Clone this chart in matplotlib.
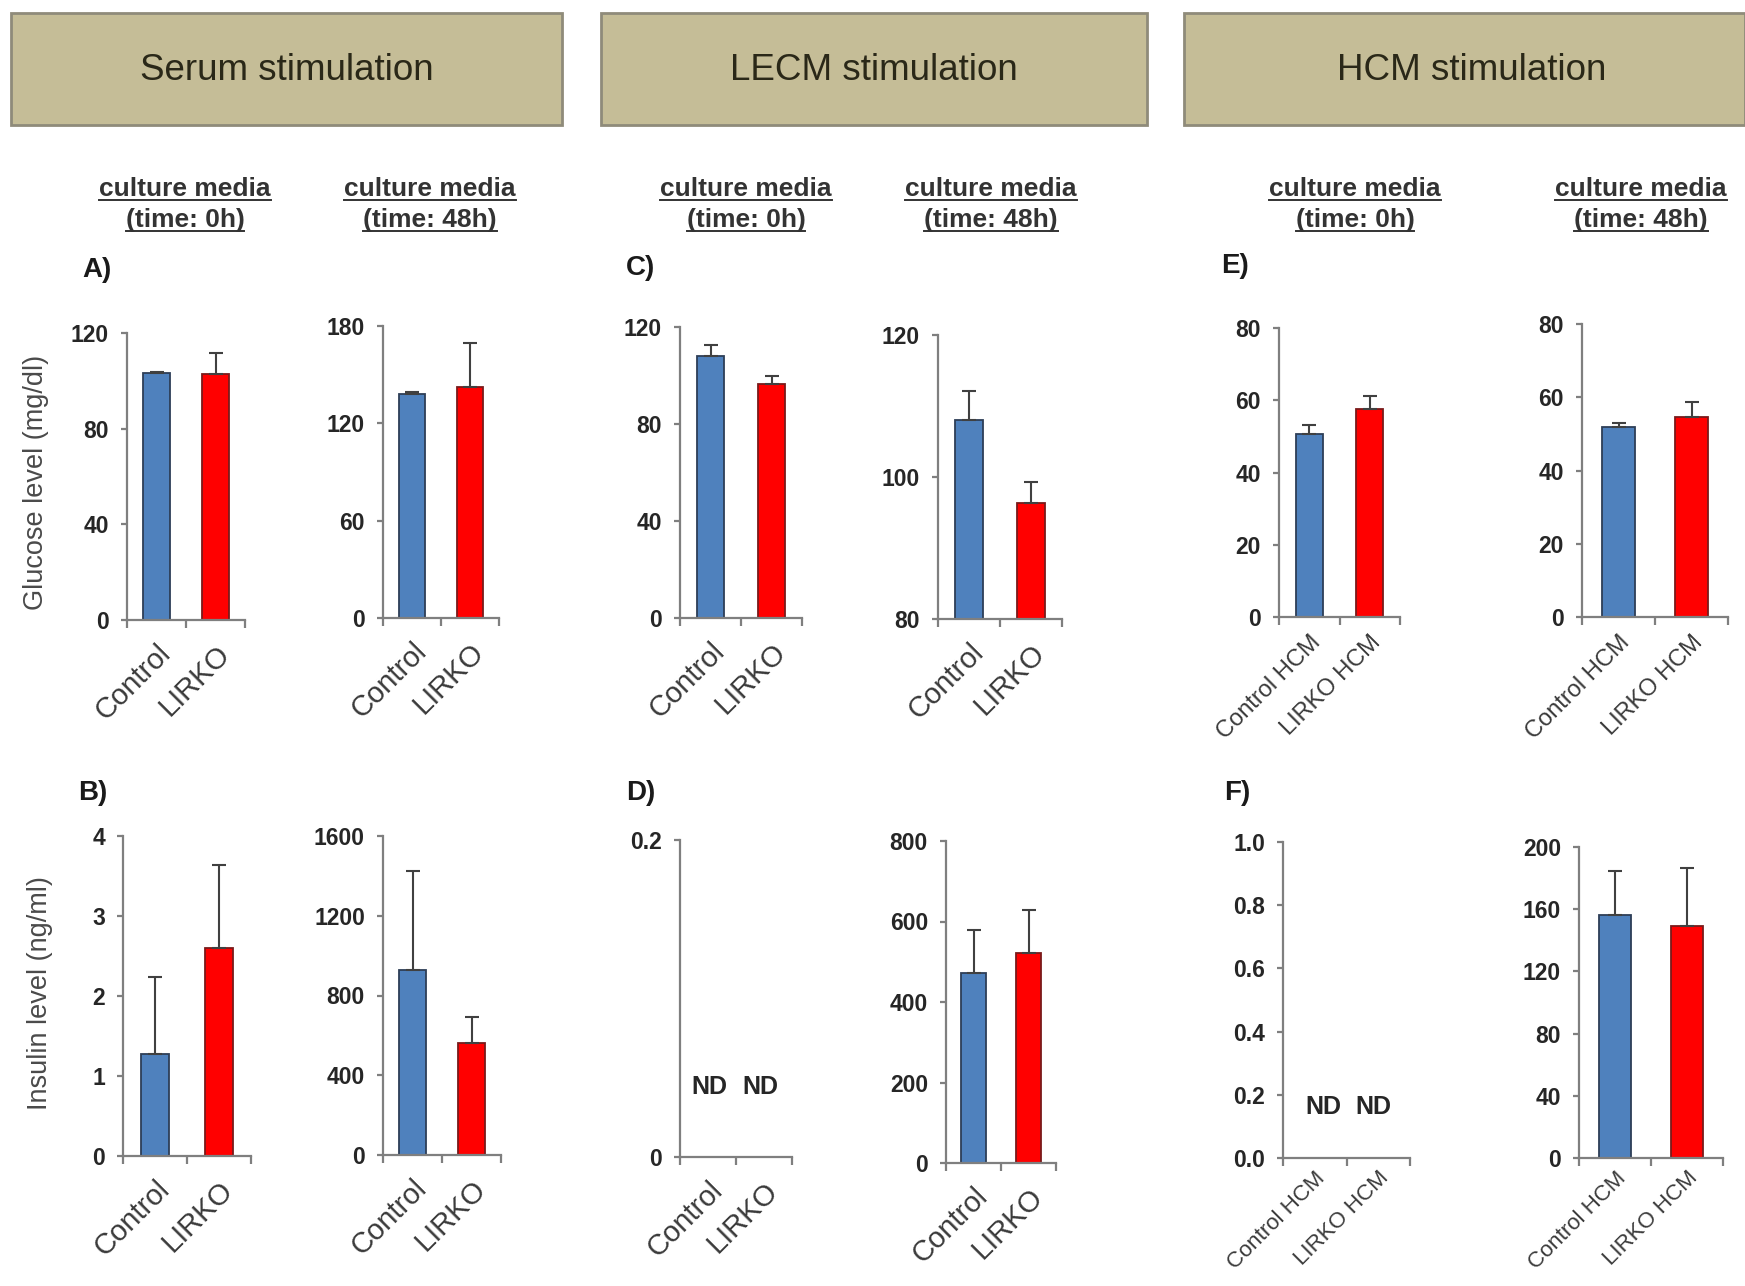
import numpy as np
import matplotlib
matplotlib.use("Agg")
import matplotlib.pyplot as plt
from matplotlib.lines import Line2D
from matplotlib.patches import Rectangle

plt.rcParams['font.family'] = ['Liberation Sans', 'DejaVu Sans']

# data (mean, upper error)
groups = ['Control', 'LIRKO']
groups_hcm = ['Control HCM', 'LIRKO HCM']

glucose_serum_0h = [103.2, 102.8]
glucose_serum_0h_err = [0.6, 8.8]
glucose_serum_48h = [138.0, 142.6]
glucose_serum_48h_err = [1.3, 27.0]
glucose_lecm_0h = [108.1, 96.5]
glucose_lecm_0h_err = [4.3, 3.1]
glucose_lecm_48h = [108.0, 96.4]
glucose_lecm_48h_err = [4.1, 2.9]
glucose_hcm_0h = [50.7, 57.7]
glucose_hcm_0h_err = [2.4, 3.6]
glucose_hcm_48h = [51.8, 54.6]
glucose_hcm_48h_err = [1.2, 4.2]

insulin_serum_0h = [1.28, 2.60]
insulin_serum_0h_err = [0.96, 1.04]
insulin_serum_48h = [926, 561]
insulin_serum_48h_err = [498, 129]
insulin_lecm_48h = [471, 521]
insulin_lecm_48h_err = [107, 107]
insulin_hcm_48h = [156.4, 149.3]
insulin_hcm_48h_err = [28.2, 37.0]

headers = ['Serum stimulation', 'LECM stimulation', 'HCM stimulation']
subtitles = ['culture media', '(time: 0h)', '(time: 48h)']

W, H = 1745, 1286
fig = plt.figure(figsize=(W / 100, H / 100), dpi=100)
fig.patch.set_facecolor('white')

BLUE = '#4f81bd'
RED = '#ff0000'
AXC = '#7f7f7f'
TXT = '#262626'


def px_axes(l, r, t, b):
    return fig.add_axes([l / W, 1 - b / H, (r - l) / W, (b - t) / H])


def panel(box, ylim, yticks, labels, vals=None, errs=None, ylabels=None,
          lab_size=21, lab_pad=14):
    ax = px_axes(*box)
    if vals is not None:
        x = np.arange(len(vals)) + 0.5
        ax.bar(x, vals, width=0.45, color=[BLUE, RED],
               edgecolor=['#2d3e57', '#7a1a1a'], linewidth=1.3, zorder=2)
        ax.errorbar(x, vals, yerr=[np.zeros(len(errs)), errs], fmt='none',
                    ecolor='#404040', elinewidth=1.5, capsize=5, capthick=1.5, zorder=3)
    ax.set_xlim(0, 2)
    ax.set_ylim(*ylim)
    ax.set_yticks(yticks)
    if ylabels:
        ax.set_yticklabels(ylabels)
    for s in ['top', 'right']:
        ax.spines[s].set_visible(False)
    for s in ['left', 'bottom']:
        ax.spines[s].set_color(AXC)
        ax.spines[s].set_linewidth(1.6)
    ax.set_xticks([0.5, 1.5])
    ax.set_xticklabels(labels, rotation=45, ha='right', rotation_mode='anchor',
                       fontsize=lab_size, color='#3a3a3a')
    ax.set_xticks([0, 1, 2], minor=True)
    ax.tick_params(axis='x', which='major', length=0, pad=lab_pad)
    ax.tick_params(axis='x', which='minor', length=6, width=1.6, color=AXC, direction='out')
    ax.tick_params(axis='y', length=4, width=1.6, color=AXC, direction='out',
                   labelsize=16.5, labelcolor=TXT, pad=9)
    for t in ax.get_yticklabels():
        t.set_fontweight('bold')
    ax.patch.set_alpha(0)
    return ax


# row 1: glucose
panel((127, 245, 333, 620), (0, 120), [0, 40, 80, 120], groups,
      glucose_serum_0h, glucose_serum_0h_err)
panel((383, 499, 326, 618), (0, 180), [0, 60, 120, 180], groups,
      glucose_serum_48h, glucose_serum_48h_err)
panel((680, 802, 327, 618), (0, 120), [0, 40, 80, 120], groups,
      glucose_lecm_0h, glucose_lecm_0h_err)
panel((938, 1062, 335, 619), (80, 120), [80, 100, 120], groups,
      glucose_lecm_48h, glucose_lecm_48h_err)
panel((1279, 1400, 328, 617), (0, 80), [0, 20, 40, 60, 80], groups_hcm,
      glucose_hcm_0h, glucose_hcm_0h_err, lab_size=17, lab_pad=10)
panel((1582, 1728, 324, 617), (0, 80), [0, 20, 40, 60, 80], groups_hcm,
      glucose_hcm_48h, glucose_hcm_48h_err, lab_size=17, lab_pad=10)

# row 2: insulin
panel((123, 251, 836, 1156), (0, 4), [0, 1, 2, 3, 4], groups,
      insulin_serum_0h, insulin_serum_0h_err)
panel((383, 501, 836, 1155), (0, 1600), [0, 400, 800, 1200, 1600], groups,
      insulin_serum_48h, insulin_serum_48h_err)
axD = panel((680, 792, 840, 1157), (0, 0.2), [0, 0.2], groups, ylabels=['0', '0.2'])
panel((946, 1056, 841, 1163), (0, 800), [0, 200, 400, 600, 800], groups,
      insulin_lecm_48h, insulin_lecm_48h_err)
f_ticks = [0, 0.2, 0.4, 0.6, 0.8, 1.0]
axF = panel((1283, 1410, 842, 1158), (0, 1.0), f_ticks, groups_hcm,
            ylabels=['{:.1f}'.format(v) for v in f_ticks], lab_size=16, lab_pad=7)
panel((1579, 1723, 847, 1158), (0, 200), [0, 40, 80, 120, 160, 200], groups_hcm,
      insulin_hcm_48h, insulin_hcm_48h_err, lab_size=16, lab_pad=7)

for xp in [0.52, 1.43]:
    axD.text(xp, 0.044, 'ND', ha='center', va='center', fontsize=18,
             fontweight='bold', color=TXT)
for xp in [0.63, 1.42]:
    axF.text(xp, 0.162, 'ND', ha='center', va='center', fontsize=18,
             fontweight='bold', color=TXT)

# header boxes
boxes = [(11, 562), (601, 1147), (1184, 1745)]
for (x0, x1), name in zip(boxes, headers):
    fig.patches.append(Rectangle((x0 / W, 1 - 125 / H), (x1 - x0) / W, 112 / H,
                                 transform=fig.transFigure, facecolor='#c5bd97',
                                 edgecolor='#8f8b7a', linewidth=2))
    fig.text((x0 + x1) / 2 / W if x1 < 1745 else 1472 / W, 1 - 70 / H, name,
             ha='center', va='center', fontsize=26.5, color='#2a2818')

# subtitles with underline
sub_x = [185, 430, 746, 991, 1355, 1641]
sub_texts = []
for i, xc in enumerate(sub_x):
    second = subtitles[1] if i % 2 == 0 else subtitles[2]
    for line, yc in [(subtitles[0], 189), (second, 220)]:
        t = fig.text(xc / W, 1 - yc / H, line, ha='center', va='center',
                     fontsize=19, fontweight='bold', color='#333333')
        sub_texts.append(t)

fig.canvas.draw()
rend = fig.canvas.get_renderer()
for t in sub_texts:
    bb = t.get_window_extent(rend)
    y = (bb.y0 + 1) / H
    fig.lines.append(Line2D([bb.x0 / W, bb.x1 / W], [y, y], transform=fig.transFigure,
                            color='#333333', linewidth=1.4))

# panel letters
for letter, xl, yl in [('A)', 82, 270), ('C)', 626, 268), ('E)', 1221, 266),
                       ('B)', 78, 793), ('D)', 626, 793), ('F)', 1224, 793)]:
    fig.text(xl / W, 1 - yl / H, letter, ha='left', va='center', fontsize=20,
             fontweight='bold', color='#1a1a1a')

fig.text(36 / W, 1 - 482 / H, 'Glucose level (mg/dl)', rotation=90, ha='center',
         va='center', fontsize=19.5, color='#4a4a4a')
fig.text(40 / W, 1 - 993 / H, 'Insulin level (ng/ml)', rotation=90, ha='center',
         va='center', fontsize=19.5, color='#4a4a4a')

fig.savefig('out.png', dpi=100, facecolor='white')
